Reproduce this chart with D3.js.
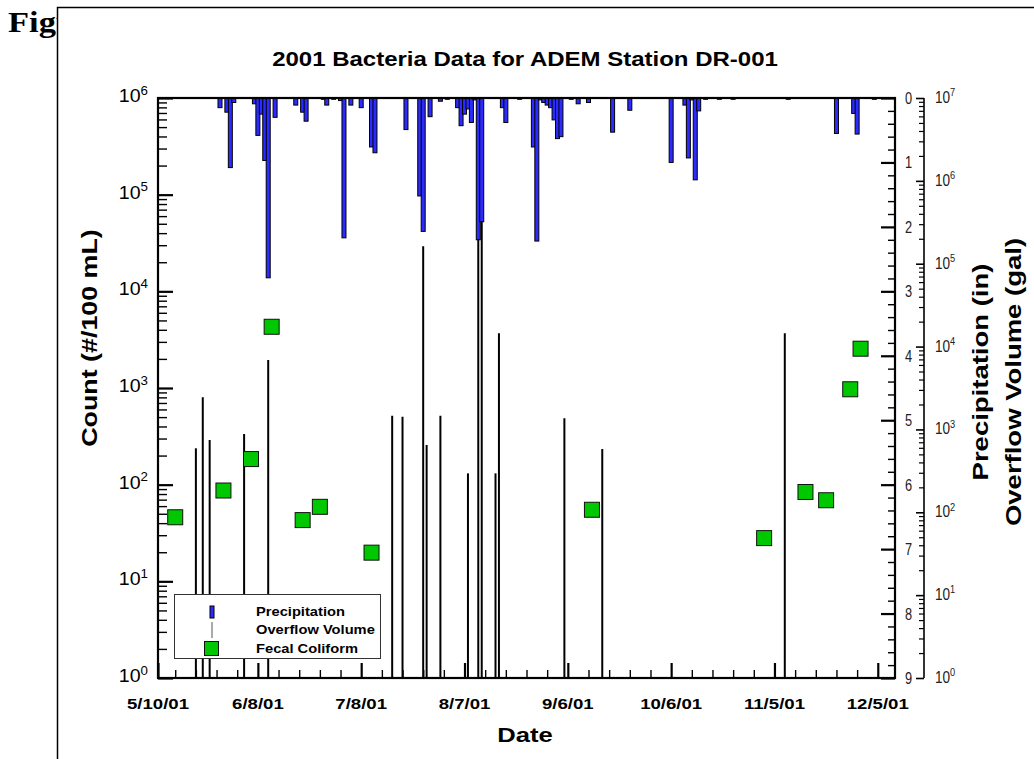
<!DOCTYPE html>
<html>
<head>
<meta charset="utf-8">
<script src="https://cdn.jsdelivr.net/npm/d3@7/dist/d3.min.js"></script>
<style>
  body { margin: 0; background: #fff; }
  svg { display: block; }
</style>
</head>
<body>
<svg id="chart" width="1034" height="759"></svg>
<script>
// ---- Data: ADEM station DR-001, 2001 ----
// Daily precipitation (inches)
const precipDates = [
  "2001-05-28","2001-05-30","2001-05-31","2001-06-01","2001-06-07","2001-06-08","2001-06-09",
  "2001-06-10","2001-06-11","2001-06-13","2001-06-19","2001-06-21","2001-06-22","2001-06-27",
  "2001-06-28","2001-06-30","2001-07-02","2001-07-03","2001-07-05","2001-07-08","2001-07-11",
  "2001-07-12","2001-07-21","2001-07-25","2001-07-26","2001-07-28","2001-07-31","2001-08-02",
  "2001-08-05","2001-08-06","2001-08-07","2001-08-08","2001-08-09","2001-08-10","2001-08-11",
  "2001-08-12","2001-08-18","2001-08-19","2001-08-23","2001-08-27","2001-08-28","2001-08-29",
  "2001-08-30","2001-08-31","2001-09-01","2001-09-02","2001-09-03","2001-09-04","2001-09-07",
  "2001-09-09","2001-09-12","2001-09-19","2001-09-24","2001-10-06","2001-10-10","2001-10-11",
  "2001-10-12","2001-10-13","2001-10-14","2001-10-16","2001-10-20","2001-10-24","2001-11-09",
  "2001-11-23","2001-11-28","2001-11-29","2001-12-04"
];
const precipInches = [
  0.15, 0.22, 1.08, 0.07, 0.09, 0.58, 0.25,
  0.97, 2.79, 0.30, 0.11, 0.22, 0.36, 0.02,
  0.11, 0.02, 0.04, 2.17, 0.11, 0.15, 0.76,
  0.85, 0.49, 1.52, 2.07, 0.29, 0.05, 0.02,
  0.15, 0.43, 0.25, 0.17, 0.38, 0.03, 2.20,
  1.92, 0.15, 0.38, 0.02, 0.76, 2.22, 0.03,
  0.07, 0.11, 0.15, 0.34, 0.63, 0.60, 0.02,
  0.09, 0.07, 0.53, 0.19, 1.00, 0.11, 0.93,
  0.03, 1.27, 0.20, 0.02, 0.02, 0.02, 0.02,
  0.55, 0.24, 0.56, 0.02
];

// Sewer overflow events (gallons)
const overflowDates = [
  "2001-05-21","2001-05-23","2001-05-25","2001-06-04","2001-06-11","2001-07-17",
  "2001-07-20","2001-07-26","2001-07-27","2001-07-31","2001-08-08","2001-08-11",
  "2001-08-12","2001-08-16","2001-08-17","2001-09-05","2001-09-16","2001-11-08"
];
const overflowGallons = [
  592, 2440, 745, 880, 6880, 1465,
  1425, 163000, 649, 1465, 295, 350000,
  360000, 295, 14500, 1360, 580, 14500
];

// Fecal coliform samples (#/100 mL)
const coliformDates = [
  "2001-05-15","2001-05-29","2001-06-06","2001-06-12","2001-06-21","2001-06-26","2001-07-11",
  "2001-09-13","2001-11-02","2001-11-14","2001-11-20","2001-11-27","2001-11-30"
];
const coliformCounts = [46, 87, 184, 4300, 43, 59, 19.8, 55, 28, 84, 69, 970, 2550];

// Axis ticks
const dateTickLabels = ["5/10/01","6/8/01","7/8/01","8/7/01","9/6/01","10/6/01","11/5/01","12/5/01"];
const countTickExponents = [0, 1, 2, 3, 4, 5, 6];
const precipTickLabels = [0, 1, 2, 3, 4, 5, 6, 7, 8, 9];
const overflowTickExponents = [0, 1, 2, 3, 4, 5, 6, 7];

// ---- Setup ----
const SANS = "'Liberation Sans', Arial, Helvetica, sans-serif";
const SERIF = "'Liberation Serif', 'Times New Roman', serif";
const parseISO = d3.utcParse("%Y-%m-%d");
const parseTick = d3.utcParse("%m/%d/%y");

const precip = precipDates.map((d, i) => ({ date: parseISO(d), value: precipInches[i] }));
const overflow = overflowDates.map((d, i) => ({ date: parseISO(d), value: overflowGallons[i] }));
const coliform = coliformDates.map((d, i) => ({ date: parseISO(d), value: coliformCounts[i] }));
const majorDates = dateTickLabels.map(s => parseTick(s));

const L = 158, R = 895, T = 98, B = 678;
const LOG_AXIS_X = 924;

const x = d3.scaleUtc()
  .domain([parseISO("2001-05-10"), parseISO("2001-12-10")])
  .range([L, R]);
const yCount = d3.scaleLog().domain([1, 1e6]).range([B, T]);
const yPrecip = d3.scaleLinear().domain([0, 9]).range([T, B]);
const yVolume = d3.scaleLog().domain([1, 1e7]).range([B, T]);

const svg = d3.select("#chart");

// text helper: horizontally widened glyphs, optional rotation
function addText(parent, px, py, str, o = {}) {
  const t = parent.append("text")
    .attr("transform", `translate(${px},${py}) rotate(${o.rotate || 0}) scale(${o.sx || 1},1)`)
    .attr("text-anchor", o.anchor || "start")
    .style("font-family", o.family || SANS)
    .style("font-size", (o.size || 14) + "px")
    .style("font-weight", o.weight || "normal")
    .attr("fill", o.fill || "#000");
  if (str !== null) t.text(str);
  return t;
}
function addPower(parent, px, py, exp, o) {
  const t = addText(parent, px, py, null, o);
  t.append("tspan").text("10");
  t.append("tspan").attr("dy", -o.size * 0.42).style("font-size", (o.size * 0.68) + "px").text(exp);
  return t;
}

// ---- Page background & figure frame ----
svg.append("rect").attr("width", 1034).attr("height", 759).attr("fill", "#fff");
addText(svg, 8, 32, "Figure 3", { size: 30, weight: "bold", sx: 1.15, family: SERIF });
svg.append("rect")
  .attr("x", 57.5).attr("y", 7.5).attr("width", 1100).attr("height", 900)
  .attr("fill", "#fff").attr("stroke", "#000").attr("stroke-width", 1.5);

// ---- Title ----
addText(svg, 525, 66, "2001 Bacteria Data for ADEM Station DR-001",
  { size: 20, weight: "bold", anchor: "middle", sx: 1.2 });

// ---- Overflow volume lines ----
svg.append("g").selectAll("line").data(overflow).join("line")
  .attr("x1", d => x(d.date)).attr("x2", d => x(d.date))
  .attr("y1", B).attr("y2", d => yVolume(d.value))
  .attr("stroke", "#000").attr("stroke-width", 2);

// ---- Precipitation bars (hanging from the top) ----
svg.append("g").selectAll("rect").data(precip).join("rect")
  .attr("x", d => x(d.date) - 2).attr("width", 4)
  .attr("y", yPrecip(0)).attr("height", d => yPrecip(d.value) - yPrecip(0))
  .attr("fill", "#2b2bff").attr("stroke", "#000").attr("stroke-width", 1);

// ---- Fecal coliform squares ----
svg.append("g").selectAll("rect").data(coliform).join("rect")
  .attr("x", d => x(d.date) - 7.5).attr("y", d => yCount(d.value) - 7.5)
  .attr("width", 15).attr("height", 15)
  .attr("fill", "#00c800").attr("stroke", "#111").attr("stroke-width", 1);

// ---- Axes ----
function styleAxis(g, width) {
  g.select(".domain").remove();
  g.selectAll(".tick line").attr("stroke", "#000").attr("stroke-width", width);
  g.selectAll(".tick text").remove();
}

// left: count (log)
const countMinor = [];
for (let e = 0; e < 6; e++) for (let m = 2; m <= 9; m++) countMinor.push(m * 10 ** e);
svg.append("g").attr("transform", `translate(${L},0)`)
  .call(d3.axisRight(yCount).tickValues(countMinor).tickSize(9).tickFormat(""))
  .call(g => styleAxis(g, 1.4));
svg.append("g").attr("transform", `translate(${L},0)`)
  .call(d3.axisRight(yCount).tickValues(countTickExponents.map(e => 10 ** e)).tickSize(15).tickFormat(""))
  .call(g => styleAxis(g, 2.2));

// bottom: date
const dateMinor = [];
for (let k = -10; k <= 40; k++) {
  const d = d3.utcDay.offset(majorDates[1], 6 * k);
  if (d >= x.domain()[0] && d <= x.domain()[1] && k % 5 !== 0) dateMinor.push(d);
}
svg.append("g").attr("transform", `translate(0,${B})`)
  .call(d3.axisTop(x).tickValues(dateMinor).tickSize(8).tickFormat(""))
  .call(g => styleAxis(g, 1.4));
svg.append("g").attr("transform", `translate(0,${B})`)
  .call(d3.axisTop(x).tickValues(majorDates).tickSize(15).tickFormat(""))
  .call(g => styleAxis(g, 2.2));

// right: precipitation (linear, inverted)
const precipMinor = d3.range(0, 45).map(i => i * 0.2).filter(v => Math.abs(v - Math.round(v)) > 1e-6);
svg.append("g").attr("transform", `translate(${R},0)`)
  .call(d3.axisLeft(yPrecip).tickValues(precipMinor).tickSize(7).tickFormat(""))
  .call(g => styleAxis(g, 1.4));
svg.append("g").attr("transform", `translate(${R},0)`)
  .call(d3.axisLeft(yPrecip).tickValues(precipTickLabels).tickSize(14).tickFormat(""))
  .call(g => styleAxis(g, 2.2));

// far right: overflow volume (log)
const volMinor = [];
for (let e = 0; e < 7; e++) for (let m = 2; m <= 9; m++) volMinor.push(m * 10 ** e);
svg.append("g").attr("transform", `translate(${LOG_AXIS_X},0)`)
  .call(d3.axisLeft(yVolume).tickValues(volMinor).tickSize(5).tickFormat(""))
  .call(g => styleAxis(g, 1.2));
svg.append("g").attr("transform", `translate(${LOG_AXIS_X},0)`)
  .call(d3.axisLeft(yVolume).tickValues(overflowTickExponents.map(e => 10 ** e)).tickSize(8).tickFormat(""))
  .call(g => styleAxis(g, 1.6));
svg.append("line")
  .attr("x1", LOG_AXIS_X).attr("x2", LOG_AXIS_X).attr("y1", T).attr("y2", B)
  .attr("stroke", "#000").attr("stroke-width", 1.6);

// plot frame
svg.append("rect")
  .attr("x", L).attr("y", T).attr("width", R - L).attr("height", B - T)
  .attr("fill", "none").attr("stroke", "#000").attr("stroke-width", 2.2);

// ---- Tick labels ----
const tickLayer = svg.append("g");
countTickExponents.forEach(e => {
  addPower(tickLayer, 148, yCount(10 ** e) + 4, e, { size: 17.5, anchor: "end", sx: 1.12 });
});
majorDates.forEach((d, i) => {
  addText(tickLayer, x(d), 709, dateTickLabels[i], { size: 15.5, weight: "bold", anchor: "middle", sx: 1.2 });
});
precipTickLabels.forEach(v => {
  addText(tickLayer, 905, yPrecip(v) + 6, String(v), { size: 16, sx: 0.8, fill: "#222" });
});
overflowTickExponents.forEach(e => {
  addPower(tickLayer, 935, yVolume(10 ** e) + 5, e, { size: 16, sx: 0.85, fill: "#222" });
});

// ---- Axis titles ----
addText(svg, 525, 742, "Date", { size: 21, weight: "bold", anchor: "middle", sx: 1.22 });
addText(svg, 97, 338, "Count (#/100 mL)", { size: 22, weight: "bold", anchor: "middle", sx: 1.22, rotate: -90 });
addText(svg, 988, 372, "Precipitation (in)", { size: 22, weight: "bold", anchor: "middle", sx: 1.25, rotate: -90 });
addText(svg, 1021, 382, "Overflow Volume (gal)", { size: 22, weight: "bold", anchor: "middle", sx: 1.25, rotate: -90 });

// ---- Legend ----
const legend = svg.append("g");
legend.append("rect")
  .attr("x", 174.5).attr("y", 594.5).attr("width", 206).attr("height", 64)
  .attr("fill", "#fff").attr("stroke", "#333").attr("stroke-width", 1);
legend.append("rect")
  .attr("x", 210).attr("y", 606).attr("width", 4).attr("height", 12)
  .attr("fill", "#2b2bff").attr("stroke", "#000").attr("stroke-width", 1);
legend.append("line")
  .attr("x1", 212).attr("x2", 212).attr("y1", 622).attr("y2", 638)
  .attr("stroke", "#555").attr("stroke-width", 1);
legend.append("rect")
  .attr("x", 204.5).attr("y", 641.5).attr("width", 14).attr("height", 14)
  .attr("fill", "#00c800").attr("stroke", "#111").attr("stroke-width", 1);
[["Precipitation", 616], ["Overflow Volume", 634], ["Fecal Coliform", 652.5]].forEach(([s, yy]) => {
  addText(legend, 256, yy, s, { size: 13, weight: "bold", sx: 1.13 });
});
</script>
</body>
</html>
